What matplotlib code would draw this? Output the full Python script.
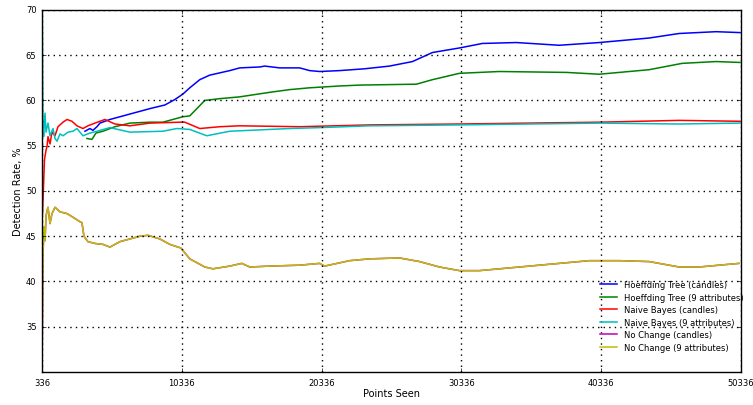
import matplotlib
matplotlib.use('Agg')
import matplotlib.pyplot as plt

# x positions are "points seen", y values are detection rate in %
ht_candles_x = [3407, 3765, 3979, 4265, 4479, 5193, 6622, 8050, 9122, 9836, 10407, 10907,
                11622, 12336, 13765, 14479, 15907, 16265, 17336, 18765, 19479, 20193, 21622,
                23408, 25193, 26836, 28265, 30193, 31836, 34265, 37336, 40193, 43765, 45908,
                48550, 50265]
ht_candles_y = [56.6, 56.9, 56.7, 57.1, 57.5, 57.9, 58.5, 59.1, 59.5, 60.1, 60.7, 61.4,
                62.3, 62.8, 63.3, 63.6, 63.7, 63.8, 63.6, 63.6, 63.3, 63.2, 63.3,
                63.5, 63.8, 64.3, 65.3, 65.8, 66.3, 66.4, 66.1, 66.4, 66.9, 67.4,
                67.6, 67.5]

ht_9attr_x = [3550, 3907, 4193, 4693, 5550, 6622, 8050, 8979, 10407, 10907, 11979, 13050,
              14479, 16622, 18050, 19479, 21622, 23050, 27122, 28265, 30193, 33050, 37836,
              40193, 43765, 46122, 48550, 50265]
ht_9attr_y = [55.8, 55.7, 56.4, 56.6, 57.1, 57.5, 57.6, 57.6, 58.2, 58.3, 60.0, 60.2,
              60.4, 60.9, 61.2, 61.4, 61.6, 61.7, 61.8, 62.3, 63.0, 63.2, 63.1,
              62.9, 63.4, 64.1, 64.3, 64.2]

nb_candles_x = [371, 443, 514, 622, 693, 764, 907, 1050, 1265, 1479, 1836, 2122, 2479, 2836,
                3265, 3622, 4122, 4836, 5550, 6622, 8050, 10193, 10550, 11622, 13050, 14479,
                18765, 23765, 30193, 40193, 45908, 50265]
nb_candles_y = [47.5, 50.5, 53.5, 54.5, 54.9, 56.0, 55.2, 56.5, 56.1, 57.1, 57.6, 57.9, 57.7, 57.2,
                56.9, 57.2, 57.5, 57.9, 57.4, 57.2, 57.5, 57.6, 57.6, 56.9, 57.1, 57.2,
                57.1, 57.3, 57.4, 57.6, 57.8, 57.7]

nb_9attr_x = [336, 400, 450, 480, 550, 622, 764, 907, 1122, 1265, 1407, 1622, 1836, 2193, 2550,
              2836, 3265, 3765, 4265, 5193, 6622, 8979, 9979, 10907, 12122, 13765, 15193,
              18050, 20193, 23765, 30193, 40193, 45908, 50265]
nb_9attr_y = [75.0, 58.0, 56.0, 57.0, 58.6, 56.5, 57.5, 56.1, 56.9, 55.8, 55.5, 56.3, 56.1, 56.5, 56.6,
              56.9, 56.1, 56.4, 56.6, 57.0, 56.5, 56.6, 56.9, 56.8, 56.1, 56.6, 56.7,
              56.9, 57.0, 57.2, 57.3, 57.5, 57.4, 57.5]

nc_x = [336, 407, 479, 550, 622, 693, 764, 907, 1050, 1265, 1622, 2122, 2550, 3050, 3193,
        3336, 3622, 4122, 4693, 5193, 5907, 7336, 7908, 8765, 9479, 10265, 10907, 11979,
        12550, 13765, 14622, 15193, 16622, 18765, 20193, 20550, 22336, 23765, 25908, 27336,
        28765, 30193, 31622, 34479, 37336, 39479, 41622, 43765, 45908, 47336, 50193]
nc_y = [30.0, 43.0, 46.0, 44.5, 47.2, 47.8, 48.2, 46.4, 47.5, 48.2, 47.7, 47.5, 47.1, 46.6, 46.5,
        45.0, 44.4, 44.2, 44.1, 43.8, 44.4, 45.0, 45.1, 44.7, 44.1, 43.7, 42.5, 41.6,
        41.4, 41.7, 42.0, 41.6, 41.7, 41.8, 42.0, 41.7, 42.3, 42.5, 42.6, 42.2,
        41.6, 41.2, 41.2, 41.6, 42.0, 42.3, 42.3, 42.2, 41.6, 41.6, 42.0]

x_ticks = [336, 10336, 20336, 30336, 40336, 50336]
y_ticks = [35, 40, 45, 50, 55, 60, 65, 70]

plt.style.use('classic')

fig = plt.figure(figsize=(7.53, 4.06), dpi=100, facecolor='white')
ax = fig.add_axes([0.0558, 0.0813, 0.9283, 0.8917])

ax.plot(ht_candles_x, ht_candles_y, color='b', lw=1.1, label='Hoeffding Tree (candles)')
ax.plot(ht_9attr_x, ht_9attr_y, color='g', lw=1.1, label='Hoeffding Tree (9 attributes)')
ax.plot(nb_candles_x, nb_candles_y, color='r', lw=1.1, label='Naive Bayes (candles)')
ax.plot(nb_9attr_x, nb_9attr_y, color='c', lw=1.1, label='Naive Bayes (9 attributes)')
ax.plot(nc_x, nc_y, color='m', lw=1.1, label='No Change (candles)')
ax.plot(nc_x, nc_y, color='y', lw=1.1, label='No Change (9 attributes)')

ax.set_xlim(336, 50336)
ax.set_ylim(30, 70)
ax.set_xticks(x_ticks)
ax.set_yticks(y_ticks)
ax.tick_params(labelsize=6, direction='in', length=3, top=True, right=True)
ax.grid(True, color='k', linestyle=':', linewidth=1)
ax.set_xlabel('Points Seen', fontsize=7, labelpad=1)
ax.set_ylabel('Detection Rate, %', fontsize=7, labelpad=2)

ax.legend(loc='lower right', bbox_to_anchor=(1.015, 0.035), fontsize=6, frameon=False,
          handlelength=2.6, handletextpad=0.6, labelspacing=0.42)

fig.savefig('out.png', dpi=100, facecolor='white')
